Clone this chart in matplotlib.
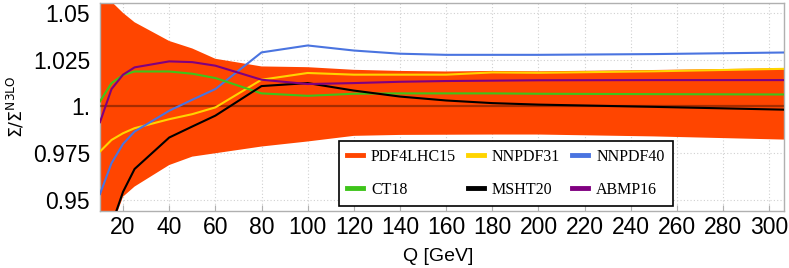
import matplotlib
matplotlib.use("Agg")
import matplotlib.pyplot as plt
from matplotlib.lines import Line2D

Q = [10, 15, 20, 25, 40, 50, 60, 80, 100, 120, 140, 160, 180, 200, 250, 310]

band_upper = [1.090, 1.056, 1.050, 1.045, 1.035, 1.031, 1.0255, 1.0214, 1.021, 1.0196,
              1.019, 1.0187, 1.019, 1.0188, 1.0195, 1.0205]
band_lower = [0.900, 0.935, 0.9518, 0.9572, 0.9687, 0.9732, 0.975, 0.9786, 0.9813, 0.9843,
              0.9848, 0.9849, 0.985, 0.985, 0.984, 0.9822]

nnpdf31 = [0.9759, 0.9821, 0.9857, 0.9884, 0.9932, 0.9959, 0.9995, 1.0143, 1.0179, 1.017,
           1.017, 1.017, 1.0182, 1.018, 1.0188, 1.0202]
nnpdf40 = [0.9532, 0.9697, 0.980, 0.9866, 0.9977, 1.0036, 1.0093, 1.0289, 1.0326, 1.0299,
           1.0282, 1.0276, 1.0276, 1.0276, 1.028, 1.0289]
ct18 = [1.0027, 1.0125, 1.0168, 1.0187, 1.0187, 1.0175, 1.0152, 1.007, 1.0057, 1.0068,
        1.007, 1.007, 1.007, 1.0068, 1.0066, 1.0064]
abmp16 = [0.9916, 1.0093, 1.017, 1.0209, 1.0241, 1.0237, 1.0218, 1.0143, 1.012, 1.0125,
          1.0132, 1.0136, 1.0138, 1.014, 1.0141, 1.0141]
msht20 = [0.905, 0.9367, 0.9544, 0.9666, 0.9834, 0.9893, 0.9951, 1.0109, 1.0125, 1.0085,
          1.0053, 1.0032, 1.0018, 1.001, 0.9998, 0.9982]

xticks = [20, 40, 60, 80, 100, 120, 140, 160, 180, 200, 220, 240, 260, 280, 300]
yticks = [0.95, 0.975, 1.0, 1.025, 1.05]
ytick_labels = ["0.95", "0.975", "1.", "1.025", "1.05"]

c_band = "#FF4500"
c_n31 = "#FFD400"
c_n40 = "#4A74E0"
c_ct = "#3EC41A"
c_msht = "#000000"
c_abmp = "#800080"

plt.rcParams["font.family"] = ["Liberation Sans", "DejaVu Sans"]
plt.rcParams["mathtext.fontset"] = "dejavusans"

fig = plt.figure(figsize=(7.89, 2.68), dpi=100)
ax = fig.add_axes([0.1267, 0.2138, 0.8670, 0.7750])

ax.fill_between(Q, band_lower, band_upper, color=c_band, lw=0, zorder=2)
ax.axhline(1.0, color="#000000", alpha=0.35, lw=1.6, zorder=3)
lw = 1.5
ax.plot(Q, nnpdf31, color=c_n31, lw=lw, zorder=4)
ax.plot(Q, nnpdf40, color=c_n40, lw=lw, zorder=4)
ax.plot(Q, ct18, color=c_ct, lw=lw, zorder=4)
ax.plot(Q, msht20, color=c_msht, lw=lw, zorder=4)
ax.plot(Q, abmp16, color=c_abmp, lw=lw, zorder=4)

ax.set_xlim(10, 306.4)
ax.set_ylim(0.9443, 1.0553)
ax.set_xticks(xticks)
ax.set_yticks(yticks)
ax.set_yticklabels(ytick_labels)
ax.tick_params(axis="both", labelsize=16.5, direction="in", length=4, color="#b0b0b0", width=0.8)
ax.tick_params(axis="x", pad=4)
ax.tick_params(axis="y", pad=7)
ax.grid(True, color="#d0d0d0", linestyle=(0, (1, 2)), lw=0.8, zorder=0)
ax.set_axisbelow(True)
for s in ax.spines.values():
    s.set_color("#b0b0b0")
    s.set_linewidth(1.0)

ax.set_xlabel("Q [GeV]", fontsize=14)
ax.xaxis.set_label_coords(0.495, -0.18)
ax.set_ylabel(r"$\Sigma/\Sigma^{\mathrm{N3LO}}$", fontsize=12.5)
ax.yaxis.set_label_coords(-0.108, 0.5)

hw = 3.5
handles = [
    Line2D([], [], color=c_band, lw=hw),
    Line2D([], [], color=c_ct, lw=hw),
    Line2D([], [], color=c_n31, lw=hw),
    Line2D([], [], color=c_msht, lw=hw),
    Line2D([], [], color=c_n40, lw=hw),
    Line2D([], [], color=c_abmp, lw=hw),
]
labels = ["PDF4LHC15", "CT18", "NNPDF31", "MSHT20", "NNPDF40", "ABMP16"]
leg = ax.legend(handles, labels, ncol=3, loc="upper left",
                bbox_to_anchor=(0.3494, 0.3356), borderaxespad=0,
                prop={"family": ["Liberation Serif", "DejaVu Serif"], "size": 11.5},
                handlelength=1.0, handletextpad=0.5, labelspacing=1.05,
                columnspacing=0.75, borderpad=0.5,
                fancybox=False, framealpha=1, edgecolor="black")
leg.get_frame().set_linewidth(1.2)
leg.set_zorder(10)

fig.savefig("out.png", dpi=100)
